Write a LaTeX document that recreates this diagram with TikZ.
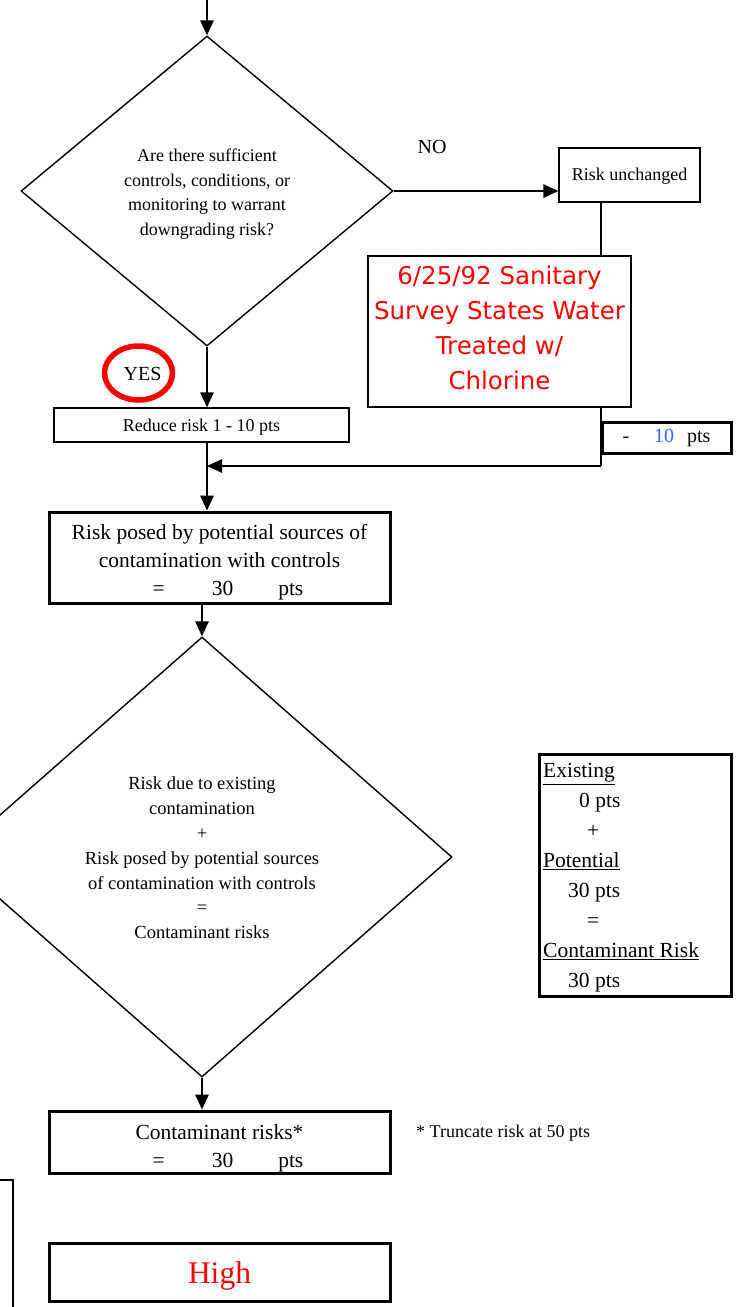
\documentclass[tikz,border=0pt]{standalone}
\usepackage{fontspec}
\setmainfont{Liberation Serif}
\newfontfamily\sanitfont{DejaVu Sans}
\usetikzlibrary{shapes.geometric,arrows.meta}
\definecolor{ptsblue}{RGB}{51,102,255}

\begin{document}
\begin{tikzpicture}[x=1pt,y=-1pt,
  thinline/.style={line width=1.4pt},
  box/.style={draw, thinline, rectangle, inner sep=0pt},
  thickbox/.style={draw, line width=3pt, rectangle, inner sep=0pt},
  decision/.style={draw, thinline, diamond, inner sep=0pt},
  label text/.style={inner sep=0pt, align=center},
  flow/.style={thinline, -{Triangle[length=15pt,width=13.5pt]}},
  plain/.style={thinline},
  txt/.style={font=\fontsize{18}{24.5}\selectfont},
  bigtxt/.style={font=\fontsize{21.5}{28}\selectfont},
  midtxt/.style={font=\fontsize{20}{24}\selectfont},
]
\useasboundingbox (0,0) rectangle (740,1307);
\clip (0,0) rectangle (740,1307);

% decisions
\node[decision, minimum width=372pt, minimum height=310pt] (q1) at (207,191) {};
\node[label text, txt] (q1-t) at ([yshift=-3pt]q1.center)
  {Are there sufficient\\controls, conditions, or\\monitoring to warrant\\downgrading risk?};
\node[decision, minimum width=500pt, minimum height=440pt] (q2) at (202,857) {};
\node[label text, font=\fontsize{18.5}{24.8}\selectfont] (q2-t) at ([yshift=-1pt]q2.center)
  {Risk due to existing\\contamination\\+\\Risk posed by potential sources\\of contamination with controls\\=\\Contaminant risks};

% NO branch
\node[midtxt] (no) at (432,147) {NO};
\node[box, minimum width=141pt, minimum height=54pt] (same) at (629.5,175) {};
\node[label text, txt] (same-t) at ([yshift=-1pt]same.center) {Risk unchanged};
\node[box, minimum width=263pt, minimum height=151pt] (survey) at (499.5,331.5) {};
\node[label text, text=red, font=\sanitfont\fontsize{24.5}{35}\selectfont] (survey-t)
  at ([yshift=4pt]survey.center)
  {6/25/92 Sanitary\\Survey States Water\\Treated w/\\Chlorine};
\node[thickbox, minimum width=129pt, minimum height=31pt] (cut) at (666.5,437.5) {};
\node[label text, midtxt] (cut-t) at (cut.center)
  {-\hspace{25pt}\textcolor{ptsblue}{10}\hspace{13pt}pts};

% YES branch
\node[ellipse, draw=red, line width=5.5pt, minimum width=68pt, minimum height=54pt,
      inner sep=0pt] (yes) at (138.5,373) {};
\node[label text, midtxt] (yes-t) at ([xshift=4pt, yshift=-1pt]yes.center) {YES};
\node[box, minimum width=295pt, minimum height=34pt] (reduce) at (201.5,425) {};
\node[label text, txt] (reduce-t) at ([yshift=-2pt]reduce.center) {Reduce risk 1 - 10 pts};

% results
\node[thickbox, minimum width=341pt, minimum height=91pt] (posed) at (219.5,557.5) {};
\node[label text, bigtxt] (posed-t) at ([yshift=-5pt]posed.center)
  {Risk posed by potential sources of\\contamination with controls\\
   \hspace*{17pt}=\hspace{47pt}30\hspace{45pt}pts};
\node[thickbox, minimum width=341pt, minimum height=62pt] (total) at (219.5,1142) {};
\node[label text, bigtxt] (total-t) at ([yshift=-6pt]total.center)
  {Contaminant risks*\\\hspace*{17pt}=\hspace{47pt}30\hspace{45pt}pts};
\node[thickbox, minimum width=341pt, minimum height=58pt] (level) at (219.5,1272) {};
\node[label text, text=red, font=\fontsize{31.5}{36}\selectfont] (level-t)
  at ([yshift=-4pt]level.center) {High};
\node[txt, anchor=west, inner sep=0pt] (note) at (416,1133) {* Truncate risk at 50 pts};

% running sum
\node[thickbox, minimum width=192pt, minimum height=242pt] (sum) at (635,875) {};
\node[font=\fontsize{21.5}{30}\selectfont, align=left, anchor=west, inner sep=0pt] (sum-t)
  at (543,878)
  {\underline{Existing}\\
   \hspace*{36pt}0 pts\\
   \hspace*{44pt}+\\
   \underline{Potential}\\
   \hspace*{25pt}30 pts\\
   \hspace*{44pt}=\\
   \underline{Contaminant Risk}\\
   \hspace*{25pt}30 pts};

% partial box at the lower left
\draw[plain] (-5,1180) -- (13,1180) -- (13,1320);

% connectors
\coordinate (entry) at (207,-5);
\coordinate (drop) at (601,0);
\coordinate (bend) at (601,466);
\coordinate (merge) at (207,466);
\draw[flow] (entry) -- (q1.north);
\draw[flow] (q1.east) -- (q1.east -| same.west);
\draw[plain] (same.south -| drop) -- (survey.north -| drop);
\draw[plain] (survey.south -| drop) -- (bend);
\draw[flow] (bend) -- (merge);
\draw[flow] (q1.south) -- (q1.south |- reduce.north);
\draw[flow] (q1.south |- reduce.south) -- (q1.south |- posed.north);
\draw[flow] (q2.north |- posed.south) -- (q2.north);
\draw[flow] (q2.south) -- (q2.south |- total.north);
\end{tikzpicture}
\end{document}
